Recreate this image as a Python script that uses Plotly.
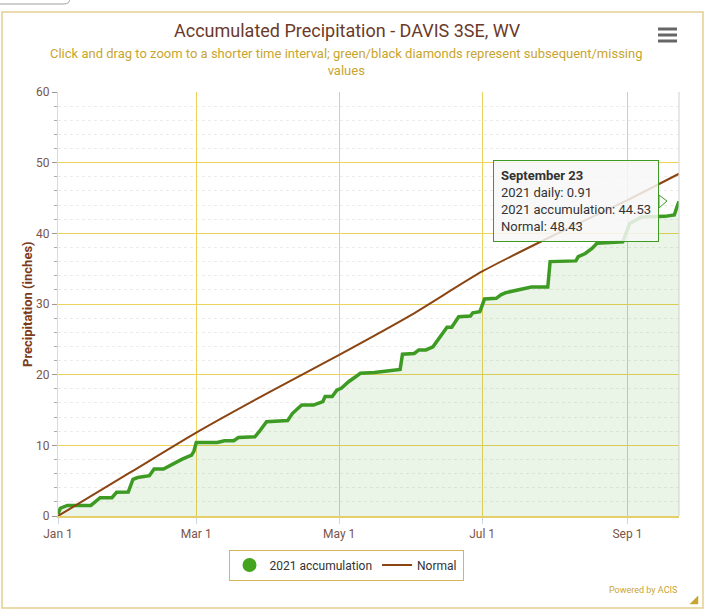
import plotly.graph_objects as go

# 2021 accumulated precipitation (inches)
acc_dates = [
    "2021-01-01", "2021-01-02", "2021-01-05", "2021-01-15", "2021-01-19", "2021-01-24", "2021-01-26", "2021-01-31",
    "2021-02-02", "2021-02-04", "2021-02-09", "2021-02-11", "2021-02-15", "2021-02-19", "2021-02-23", "2021-02-27", "2021-02-28",
    "2021-03-01", "2021-03-10", "2021-03-13", "2021-03-17", "2021-03-19", "2021-03-26", "2021-03-28", "2021-03-31",
    "2021-04-09", "2021-04-11", "2021-04-15", "2021-04-20", "2021-04-24", "2021-04-25", "2021-04-28", "2021-04-30",
    "2021-05-02", "2021-05-05", "2021-05-08", "2021-05-10", "2021-05-16", "2021-05-24", "2021-05-27", "2021-05-28",
    "2021-06-02", "2021-06-04", "2021-06-07", "2021-06-10", "2021-06-12", "2021-06-16", "2021-06-18", "2021-06-21",
    "2021-06-26", "2021-06-27", "2021-06-30",
    "2021-07-02", "2021-07-07", "2021-07-09", "2021-07-11", "2021-07-17", "2021-07-22", "2021-07-29", "2021-07-30",
    "2021-08-10", "2021-08-11", "2021-08-14", "2021-08-17", "2021-08-19", "2021-08-30",
    "2021-09-02", "2021-09-05", "2021-09-07", "2021-09-17", "2021-09-21", "2021-09-22", "2021-09-23",
]
acc_values = [
    0.3, 1.1, 1.5, 1.5, 2.6, 2.6, 3.35, 3.4,
    5.2, 5.45, 5.7, 6.65, 6.65, 7.35, 8.05, 8.6, 9.2,
    10.4, 10.4, 10.65, 10.65, 11.1, 11.2, 12.0, 13.35,
    13.5, 14.5, 15.7, 15.7, 16.2, 16.9, 16.9, 17.8,
    18.1, 19.0, 19.7, 20.2, 20.3, 20.55, 20.75, 22.9,
    23.0, 23.5, 23.5, 23.95, 24.9, 26.7, 26.7, 28.2,
    28.3, 28.75, 28.9,
    30.7, 30.8, 31.3, 31.6, 32.0, 32.4, 32.4, 36.0,
    36.1, 36.7, 37.15, 37.9, 38.6, 38.8,
    41.4, 41.9, 42.3, 42.4, 42.6, 43.62, 44.53,
]

# Normal accumulation
normal_dates = ["2021-01-01", "2021-02-01", "2021-03-01", "2021-04-01", "2021-05-01",
                "2021-06-01", "2021-07-01", "2021-08-01", "2021-09-01", "2021-09-23"]
normal_values = [0.0, 6.2, 11.8, 17.5, 22.8, 28.5, 34.6, 39.8, 44.7, 48.43]

tick_dates = ["2021-01-01", "2021-03-01", "2021-05-01", "2021-07-01", "2021-09-01"]
tick_labels = ["Jan 1", "Mar 1", "May 1", "Jul 1", "Sep 1"]

tip_date = "September 23"
tip_daily = 0.91
tip_accum = 44.53
tip_normal = 48.43

GREEN = "#3d9b23"
BROWN = "#8b4513"
GOLD = "#c9a530"
GRID = "#ebd35e"
FONT = "Roboto"

# pixel -> paper helpers (plot area: x 58..679, y 92..516)
def px(x):
    return (x - 58) / 621.0

def py(y):
    return (516 - y) / 424.0

fig = go.Figure()
fig.add_trace(go.Scatter(x=acc_dates, y=acc_values, mode='lines', name='2021 accumulation',
                         line=dict(color=GREEN, width=3.5), fill='tozeroy',
                         fillcolor='rgba(61,155,35,0.11)', showlegend=False, hoverinfo='skip'))
fig.add_trace(go.Scatter(x=normal_dates, y=normal_values, mode='lines', name='Normal',
                         line=dict(color=BROWN, width=2, shape='spline', smoothing=0.6),
                         showlegend=False, hoverinfo='skip'))
# legend-only entries
fig.add_trace(go.Scatter(x=[None], y=[None], mode='markers', name='2021 accumulation',
                         marker=dict(color='#44a41f', size=14, symbol='circle')))
fig.add_trace(go.Scatter(x=[None], y=[None], mode='lines', name='Normal',
                         line=dict(color=BROWN, width=2)))

fig.update_xaxes(
    range=["2021-01-01", "2021-09-23"], tickvals=tick_dates, ticktext=tick_labels,
    showgrid=True, gridcolor=GRID, gridwidth=1,
    ticks='outside', ticklen=6, tickcolor='#ccd6eb',
    showline=True, linecolor='#e6cf6a', linewidth=2,
    tickfont=dict(family=FONT, size=12, color='#7a5548'), zeroline=False,
)
fig.update_yaxes(
    range=[0, 60], dtick=10, showgrid=True, gridcolor=GRID, gridwidth=1,
    ticks='outside', ticklen=5, tickcolor='#999999',
    minor=dict(dtick=2, ticks='outside', ticklen=3, tickcolor='#aaaaaa',
               showgrid=True, gridcolor='#ececec', griddash='dot'),
    showline=True, linecolor='#f0e08a', linewidth=1, zeroline=False,
    tickfont=dict(family=FONT, size=12, color='#7a5548'),
)

shapes = [
    # outer chart border
    dict(type='rect', xref='paper', yref='paper', x0=px(2), x1=px(703), y0=py(608), y1=py(12),
         line=dict(color='#e2cf90', width=1.5), fillcolor='rgba(0,0,0,0)', layer='below'),
    # right edge of plot area
    dict(type='line', xref='paper', yref='paper', x0=1, x1=1, y0=0, y1=1,
         line=dict(color='#d0d0d0', width=1)),
    # bit of a tab in the top-left corner
    dict(type='path', xref='paper', yref='paper',
         path=f"M {px(-3)},{py(4)} L {px(64)},{py(4)} Q {px(70)},{py(4)} {px(70)},{py(-2)} L {px(70)},{py(-12)}",
         line=dict(color='#a0a0a0', width=1)),
    # resize grip
    dict(type='path', xref='paper', yref='paper',
         path=f"M {px(698)},{py(596)} L {px(698)},{py(604)} L {px(690)},{py(604)} Z",
         line=dict(color='#c9a530', width=0.5), fillcolor='#c9a530'),
    # tooltip pointer
    dict(type='path', xref='paper', yref='paper',
         path=f"M {px(659)},{py(195)} L {px(667)},{py(201)} L {px(659)},{py(208)} Z",
         line=dict(color=GREEN, width=1), fillcolor='rgba(247,247,247,0.9)', layer='above'),
]
# hamburger menu icon
for yy in (29, 35, 41):
    shapes.append(dict(type='line', xref='paper', yref='paper', x0=px(658), x1=px(677),
                       y0=py(yy), y1=py(yy), line=dict(color='#666666', width=3)))

annotations = [
    dict(text="Accumulated Precipitation - DAVIS 3SE, WV", xref='paper', yref='paper',
         x=px(347), y=py(30), showarrow=False, xanchor='center', yanchor='middle',
         font=dict(family=FONT, size=18, color='#6b3a2a')),
    dict(text="Click and drag to zoom to a shorter time interval; green/black diamonds represent subsequent/missing<br>values",
         xref='paper', yref='paper', x=px(346), y=py(62), showarrow=False,
         xanchor='center', yanchor='middle', align='center',
         font=dict(family=FONT, size=13, color=GOLD)),
    dict(text="<b>Precipitation (inches)</b>", xref='paper', yref='paper', x=px(27), y=py(304),
         textangle=-90, showarrow=False, xanchor='center', yanchor='middle',
         font=dict(family=FONT, size=13, color='#7a3b1b')),
    dict(text="Powered by ACIS", xref='paper', yref='paper', x=px(679), y=py(590),
         showarrow=False, xanchor='right', yanchor='middle',
         font=dict(family=FONT, size=9, color=GOLD)),
    dict(text=(f"<b>{tip_date}</b><br>2021 daily: {tip_daily:.2f}<br>"
               f"2021 accumulation: {tip_accum:.2f}<br>Normal: {tip_normal:.2f}"),
         x=acc_dates[-1], y=tip_accum, xref='x', yref='y', showarrow=False,
         xanchor='right', yanchor='middle', xshift=-20, align='left',
         bgcolor='rgba(247,247,247,0.85)', bordercolor=GREEN, borderwidth=1, borderpad=7,
         font=dict(family=FONT, size=13, color='#333333')),
]

fig.update_layout(
    width=707, height=612, autosize=False,
    margin=dict(l=58, r=28, t=92, b=96),
    paper_bgcolor='white', plot_bgcolor='white',
    font=dict(family=FONT, size=12, color='#333333'),
    showlegend=True,
    legend=dict(orientation='h', x=px(346), y=py(565), xanchor='center', yanchor='middle',
                bordercolor='#d4b65a', borderwidth=1, bgcolor='white',
                font=dict(family=FONT, size=12, color='#333333'), itemwidth=30),
    shapes=shapes,
    annotations=annotations,
    hovermode=False,
)

# drop the default page margin so the figure sits at the window origin
fig.write_html("out.html", config={'displayModeBar': False},
               post_script="document.body.style.margin='0px';")
